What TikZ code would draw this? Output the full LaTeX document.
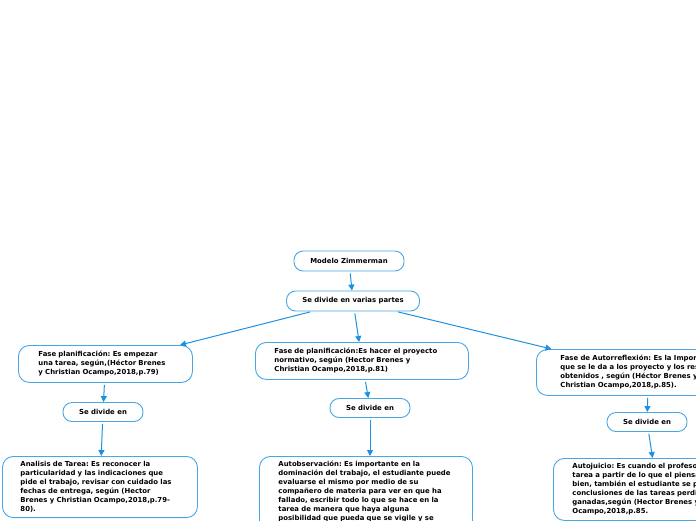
\documentclass[tikz,border=0pt]{standalone}
\usepackage{fontspec}
\setmainfont{DejaVu Sans}
\usetikzlibrary{arrows.meta,positioning}
\definecolor{mapblue}{RGB}{30,144,226}
\definecolor{mapline}{RGB}{72,166,230}
\frenchspacing

\begin{document}
\begin{tikzpicture}[x=1pt, y=-1pt,
    topic/.style={rectangle, rounded corners=9pt, draw=mapline, line width=0.9pt,
                  fill=white, font=\fontsize{6.9}{9}\selectfont\bfseries, align=center},
    idea/.style={rectangle, rounded corners=11pt, draw=mapline, line width=0.9pt,
                 fill=white, font=\fontsize{6.9}{9}\selectfont\bfseries, align=left,
                 anchor=north west, inner ysep=5pt},
    link/.style={-{Triangle[length=6pt,width=6pt]}, draw=mapblue, line width=1pt,
                 shorten <=2pt},
]

\useasboundingbox (0,0) rectangle (696,520);
\clip (0,0) rectangle (696,520);

% Root
\node[topic, minimum width=110pt, minimum height=20pt] (modelo) at (349,261) {Modelo Zimmerman};
\node[topic, minimum width=133pt, minimum height=20pt] (partes) at (353,301) {Se divide en varias partes};

% Phases
\node[idea, inner xsep=20pt, text width=134pt, minimum height=37pt] (plan) at (18,345) {
Fase planificación: Es empezar\\
una tarea, según,(Héctor Brenes\\
y Christian Ocampo,2018,p.79)};
\node[idea, inner xsep=19pt, text width=175pt, minimum height=37pt] (ejec) at (255,342) {
Fase de planificación:Es hacer el proyecto\\
normativo, según (Hector Brenes y\\
Christian Ocampo,2018,p.81)};
\node[idea, inner xsep=24pt, text width=176pt, minimum height=46pt] (refl) at (536,349) {
Fase de Autorreflexión: Es la Importancia\\
que se le da a los proyecto y los resultados\\
obtenidos , según (Héctor Brenes y\\
Christian Ocampo,2018,p.85).};

% Se divide en
\node[topic, minimum width=80pt, minimum height=19pt] (div1) at (103,412) {Se divide en};
\node[topic, minimum width=80pt, minimum height=19pt] (div2) at (370,408) {Se divide en};
\node[topic, minimum width=80pt, minimum height=19pt] (div3) at (647,422) {Se divide en};

% Details
\node[idea, inner xsep=18pt, text width=159pt, minimum height=61pt] (tarea) at (2,456) {
Analisis de Tarea: Es reconocer la\\
particularidad y las indicaciones que\\
pide el trabajo, revisar con cuidado las\\
fechas de entrega, según (Hector\\
Brenes y Christian Ocampo,2018,p.79-\\
80).};
\node[idea, inner xsep=19pt, text width=175pt] (autob) at (259,456) {
Autobservación: Es importante en la\\
dominación del trabajo, el estudiante puede\\
evaluarse el mismo por medio de su\\
compañero de materia para ver en que ha\\
fallado, escribir todo lo que se hace en la\\
tarea de manera que haya alguna\\
posibilidad que pueda que se vigile y se\\
\rule{0pt}{20pt}};
\node[idea, inner xsep=19pt, text width=170pt, minimum height=62pt] (juicio) at (553,458) {
Autojuicio: Es cuando el profesor\\
tarea a partir de lo que el piensa\\
bien, también el estudiante se puede\\
conclusiones de las tareas perdidas y\\
ganadas,según (Hector Brenes y\\
Ocampo,2018,p.85.};

% Connectors
\draw[link] (modelo) -- (partes);
\draw[link] (partes) -- (plan);
\draw[link] (partes) -- (ejec);
\draw[link] (partes) -- (refl);
\draw[link] (plan) -- (div1);
\draw[link] (ejec) -- (div2);
\draw[link] (refl) -- (div3);
\draw[link] (div1) -- (tarea);
\draw[link] (div2) -- (autob.north -| div2);
\draw[link] (div3) -- (juicio);

\end{tikzpicture}
\end{document}
